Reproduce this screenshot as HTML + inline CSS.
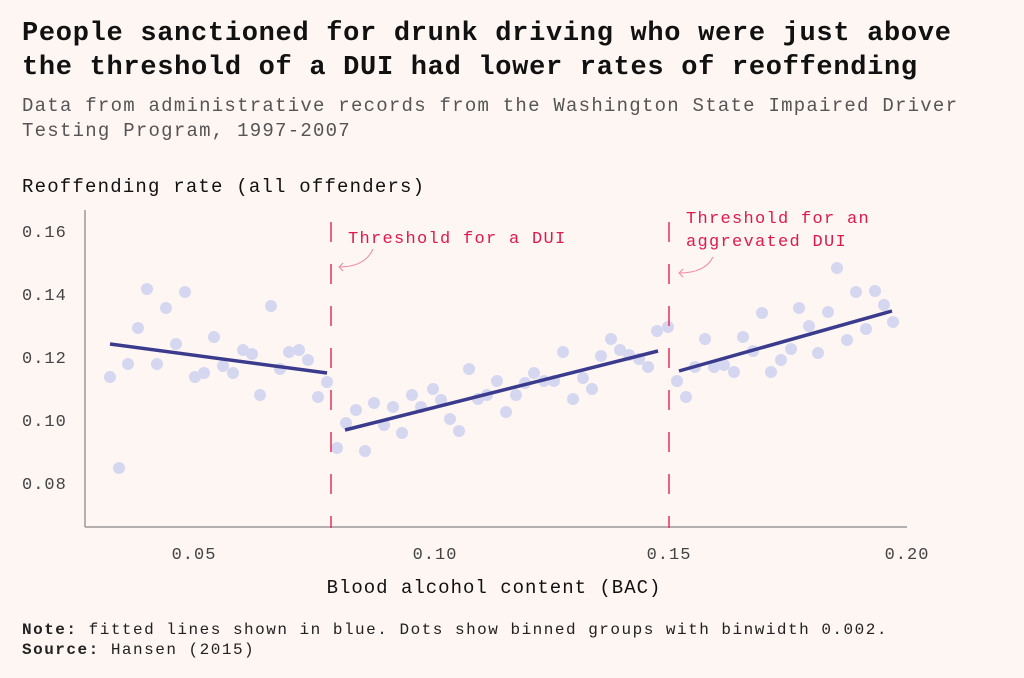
<!DOCTYPE html>
<html><head><meta charset="utf-8"><style>
body{margin:0;background:#fdf6f3;}
svg{display:block}
text{font-family:"Liberation Mono",monospace;}
</style></head><body>
<svg width="1024" height="678" viewBox="0 0 1024 678" xmlns="http://www.w3.org/2000/svg">
<rect width="1024" height="678" fill="#fdf6f3"/>
<text x="22" y="40" font-size="27" font-weight="bold" fill="#111" letter-spacing="0.7">People sanctioned for drunk driving who were just above</text>
<text x="22" y="74" font-size="27" font-weight="bold" fill="#111" letter-spacing="0.7">the threshold of a DUI had lower rates of reoffending</text>
<text x="22" y="111" font-size="19" fill="#555" letter-spacing="1.25">Data from administrative records from the Washington State Impaired Driver</text>
<text x="22" y="136" font-size="19" fill="#555" letter-spacing="1.25">Testing Program, 1997-2007</text>
<text x="22" y="192" font-size="19" fill="#111" letter-spacing="1.2">Reoffending rate (all offenders)</text>
<g font-size="17" fill="#444" letter-spacing="1">
<text x="22" y="237">0.16</text><text x="22" y="300">0.14</text><text x="22" y="363">0.12</text><text x="22" y="426">0.10</text><text x="22" y="489">0.08</text>
<text x="194" y="559" text-anchor="middle">0.05</text><text x="435" y="559" text-anchor="middle">0.10</text><text x="669" y="559" text-anchor="middle">0.15</text><text x="907" y="559" text-anchor="middle">0.20</text>
</g>
<text x="494" y="593" font-size="19" fill="#111" text-anchor="middle" letter-spacing="1">Blood alcohol content (BAC)</text>
<line x1="85" y1="210" x2="85" y2="527" stroke="#999" stroke-width="1.5"/>
<line x1="85" y1="527" x2="907" y2="527" stroke="#999" stroke-width="1.5"/>
<g fill="#d5d7f0">
<circle cx="110" cy="377" r="6"/><circle cx="119" cy="468" r="6"/><circle cx="128" cy="364" r="6"/><circle cx="138" cy="328" r="6"/><circle cx="147" cy="289" r="6"/><circle cx="157" cy="364" r="6"/><circle cx="166" cy="308" r="6"/><circle cx="176" cy="344" r="6"/><circle cx="185" cy="292" r="6"/><circle cx="195" cy="377" r="6"/><circle cx="204" cy="373" r="6"/><circle cx="214" cy="337" r="6"/><circle cx="223" cy="366" r="6"/><circle cx="233" cy="373" r="6"/><circle cx="243" cy="350" r="6"/><circle cx="252" cy="354" r="6"/><circle cx="260" cy="395" r="6"/><circle cx="271" cy="306" r="6"/><circle cx="280" cy="369" r="6"/><circle cx="289" cy="352" r="6"/><circle cx="299" cy="350" r="6"/><circle cx="308" cy="360" r="6"/><circle cx="318" cy="397" r="6"/><circle cx="327" cy="382" r="6"/>
<circle cx="337" cy="448" r="6"/><circle cx="346" cy="423" r="6"/><circle cx="356" cy="410" r="6"/><circle cx="365" cy="451" r="6"/><circle cx="374" cy="403" r="6"/><circle cx="384" cy="425" r="6"/><circle cx="393" cy="407" r="6"/><circle cx="402" cy="433" r="6"/><circle cx="412" cy="395" r="6"/><circle cx="421" cy="407" r="6"/><circle cx="433" cy="389" r="6"/><circle cx="441" cy="400" r="6"/><circle cx="450" cy="419" r="6"/><circle cx="459" cy="431" r="6"/><circle cx="469" cy="369" r="6"/><circle cx="478" cy="399" r="6"/><circle cx="487" cy="395" r="6"/><circle cx="497" cy="381" r="6"/>
<circle cx="506" cy="412" r="6"/><circle cx="516" cy="395" r="6"/><circle cx="525" cy="383" r="6"/><circle cx="534" cy="373" r="6"/><circle cx="544" cy="381" r="6"/><circle cx="554" cy="381" r="6"/><circle cx="563" cy="352" r="6"/><circle cx="573" cy="399" r="6"/><circle cx="583" cy="378" r="6"/><circle cx="592" cy="389" r="6"/><circle cx="601" cy="356" r="6"/><circle cx="611" cy="339" r="6"/><circle cx="620" cy="350" r="6"/><circle cx="629" cy="355" r="6"/><circle cx="639" cy="359" r="6"/><circle cx="648" cy="367" r="6"/><circle cx="657" cy="331" r="6"/><circle cx="668" cy="327" r="6"/>
<circle cx="677" cy="381" r="6"/><circle cx="686" cy="397" r="6"/><circle cx="695" cy="367" r="6"/><circle cx="705" cy="339" r="6"/><circle cx="714" cy="367" r="6"/><circle cx="724" cy="365" r="6"/><circle cx="734" cy="372" r="6"/><circle cx="743" cy="337" r="6"/><circle cx="753" cy="351" r="6"/><circle cx="762" cy="313" r="6"/><circle cx="771" cy="372" r="6"/><circle cx="781" cy="360" r="6"/><circle cx="791" cy="349" r="6"/><circle cx="799" cy="308" r="6"/><circle cx="809" cy="326" r="6"/><circle cx="818" cy="353" r="6"/><circle cx="828" cy="312" r="6"/><circle cx="837" cy="268" r="6"/><circle cx="847" cy="340" r="6"/><circle cx="856" cy="292" r="6"/><circle cx="866" cy="329" r="6"/><circle cx="875" cy="291" r="6"/><circle cx="884" cy="305" r="6"/><circle cx="893" cy="322" r="6"/>
</g>
<g stroke="#e8315a" stroke-width="1.5" stroke-dasharray="20,22">
<line x1="331" y1="222" x2="331" y2="528"/>
<line x1="669" y1="222" x2="669" y2="528"/>
</g>
<g stroke="#3b3b8e" stroke-width="3.5" stroke-linecap="butt">
<line x1="110" y1="344" x2="327" y2="373"/>
<line x1="345" y1="430" x2="658" y2="351"/>
<line x1="679" y1="371" x2="892" y2="311"/>
</g>
<g fill="none" stroke="#f08aa2" stroke-width="1">
<path d="M373 249 Q365 267 339 267"/><path d="M343 263 L339 267 L343 271"/>
<path d="M713 257 Q705 273 679 273"/><path d="M683 269 L679 273 L683 277"/>
</g>
<g font-size="17" fill="#e0194d" letter-spacing="1.3">
<text x="348" y="243">Threshold for a DUI</text>
<text x="686" y="223">Threshold for an</text>
<text x="686" y="246">aggrevated DUI</text>
</g>
<g font-size="16" fill="#222" letter-spacing="1.5">
<text x="22" y="634"><tspan font-weight="bold">Note:</tspan> fitted lines shown in blue. Dots show binned groups with binwidth 0.002.</text>
<text x="22" y="654"><tspan font-weight="bold">Source:</tspan> Hansen (2015)</text>
</g>
</svg>
</body></html>
